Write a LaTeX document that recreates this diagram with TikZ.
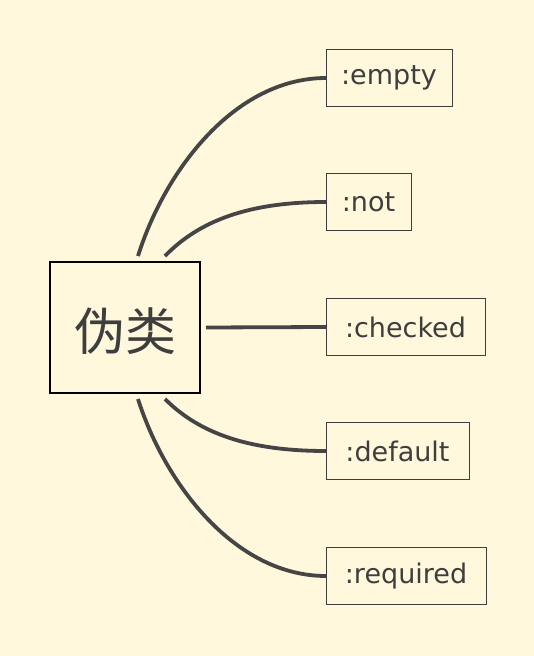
\documentclass[tikz,border=0pt]{standalone}
\usepackage{fontspec}
\setmainfont{DejaVu Sans}
\newfontfamily\cjkfont{Noto Sans CJK SC}
\definecolor{paper}{HTML}{FFF8DC}
\definecolor{ink}{HTML}{3E3E3E}
\definecolor{wire}{HTML}{454545}
\begin{document}
\begin{tikzpicture}[x=1pt, y=-1pt,
	hubbox/.style={shape=rectangle, draw=black, line width=2.4pt, minimum width=150pt, minimum height=131pt, outer sep=6pt, text height=50pt, text depth=4pt, text=ink, font=\cjkfont\fontsize{51}{53}\selectfont},
	leafbox/.style={shape=rectangle, draw=ink, line width=0.9pt, minimum height=57pt, anchor=west, inner sep=0pt, outer sep=0pt, text=ink, font=\fontsize{27}{30}\selectfont},
	wireline/.style={draw=wire, line width=3.8pt}]
	% Background and frame:
	\fill[paper] (0, 0) rectangle (534, 656);
	\useasboundingbox (0, 0) rectangle (534, 656);
	% Paths, nodes and wires:
	\node[hubbox] (hub) at (125, 327.5){伪类};
	\node[leafbox, minimum width=126pt] (empty) at (326, 78){:empty};
	\node[leafbox, minimum width=85pt] (not) at (326, 202){:not};
	\node[leafbox, minimum width=159pt] (checked) at (326, 327){:checked};
	\node[leafbox, minimum width=143pt] (default) at (326, 451){:default};
	\node[leafbox, minimum width=160pt] (required) at (326, 576){:required};
	\draw[wireline] ([xshift=13pt]hub.north) .. controls (165, 170) and (235, 78) .. (empty.west);
	\draw[wireline] ([xshift=40pt]hub.north) .. controls (200, 220) and (250, 202) .. (not.west);
	\draw[wireline] (hub.east) -- (checked.west);
	\draw[wireline] ([xshift=40pt]hub.south) .. controls (200, 434) and (250, 451) .. (default.west);
	\draw[wireline] ([xshift=13pt]hub.south) .. controls (165, 484) and (235, 576) .. (required.west);
\end{tikzpicture}
\end{document}
